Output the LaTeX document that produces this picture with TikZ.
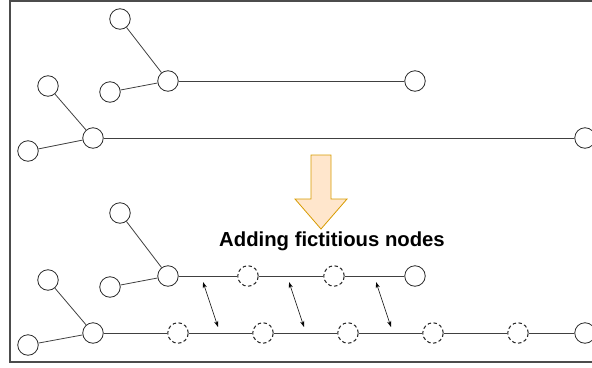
\documentclass[tikz,border=0pt]{standalone}
\usepackage{fontspec}
\setmainfont{Liberation Sans}
\usetikzlibrary{arrows.meta}

\definecolor{arrowfill}{HTML}{FFE6CC}
\definecolor{arrowline}{HTML}{D79B00}

\begin{document}
\begin{tikzpicture}[x=1pt,y=-1pt,line width=0.8pt]
        \tikzstyle{vertex}=[draw=black!85,circle,minimum size=20.5pt,inner sep=0pt,fill=white]
        \tikzstyle{fict}=[vertex,line width=1pt,dash pattern=on 3.5pt off 2.5pt]
        \tikzstyle{edge}=[draw=black!75]
        \tikzstyle{swap}=[{Stealth[length=6pt,width=4pt]}-{Stealth[length=6pt,width=4pt]},line width=0.6pt]

        \useasboundingbox (0,0) rectangle (592,367);
        \clip (0,0) rectangle (592,367);
        \draw[black!70,line width=1.5pt] (10,1) rectangle (620,362);

        % before: two trees
        \node[vertex] (a1) at (120,19) {};
        \node[vertex] (a2) at (110,92) {};
        \node[vertex] (a0) at (168,81) {};
        \node[vertex] (a3) at (415,81) {};
        \node[vertex] (b1) at (48,86) {};
        \node[vertex] (b2) at (28,151) {};
        \node[vertex] (b0) at (93,138) {};
        \node[vertex] (b3) at (585,138) {};
        \draw[edge] (a1) -- (a0);
        \draw[edge] (a2) -- (a0);
        \draw[edge] (a0) -- (a3);
        \draw[edge] (b1) -- (b0);
        \draw[edge] (b2) -- (b0);
        \draw[edge] (b0) -- (b3);

        % big arrow
        \draw[fill=arrowfill,draw=arrowline] (311,155) -- (331,155) -- (331,199) -- (347,199)
            -- (321,229) -- (295,199) -- (311,199) -- cycle;
        \node[font=\bfseries\fontsize{20.3}{24}\selectfont,anchor=base] (lbl) at (332,246) {Adding fictitious nodes};

        % after: same trees with fictitious nodes
        \node[vertex] (c1) at (120,213) {};
        \node[vertex] (c2) at (110,287) {};
        \node[vertex] (c0) at (168,276) {};
        \node[vertex] (c5) at (415,276) {};
        \foreach \i/\x in {3/248, 4/334}
            \node[fict] (c\i) at (\x,276) {};
        \node[vertex] (d1) at (48,280) {};
        \node[vertex] (d2) at (28,345) {};
        \node[vertex] (d0) at (93,333) {};
        \node[vertex] (d8) at (585,333) {};
        \foreach \i in {3,...,7}
            \node[fict] (d\i) at ({93+85*(\i-2)},333) {};
        \draw[edge] (c1) -- (c0);
        \draw[edge] (c2) -- (c0);
        \draw[edge] (c0) -- (c3) -- (c4) -- (c5);
        \draw[edge] (d1) -- (d0);
        \draw[edge] (d2) -- (d0);
        \draw[edge] (d0) -- (d3) -- (d4) -- (d5) -- (d6) -- (d7) -- (d8);

        % matching between the two trees
        \foreach \i/\x in {1/203, 2/289, 3/376} {
            \coordinate (s\i) at (\x,282);
            \coordinate (t\i) at (\x+15,327);
            \draw[swap] (s\i) -- (t\i);
        }
\end{tikzpicture}
\end{document}
